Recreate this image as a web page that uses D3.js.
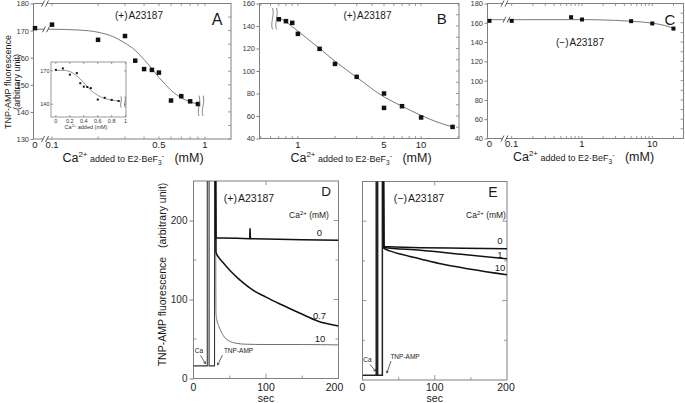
<!DOCTYPE html>
<html><head><meta charset="utf-8">
<script src="https://cdn.jsdelivr.net/npm/d3@7"></script>
<style>body{margin:0;background:#fff}</style>
</head><body><svg id="c" width="685" height="403"></svg>
<script>
// ---------- DATA ----------
// Panel A (+)A23187
const aCa = [0,0.1,0.2,0.3,0.35,0.4,0.45,0.5,0.6,0.7,0.8,0.9];
const aF  = [170.9,172.2,166.6,168,158.9,155.8,155.5,154.5,144.2,145.8,143.9,142.9];
const aFitCa = [0,0.1,0.15,0.2,0.25,0.3,0.35,0.4,0.45,0.5,0.55,0.6,0.7,0.8,0.9];
const aFitF  = [170.5,170.5,170.2,169.4,167.8,165.4,162.7,159.3,156,152.7,150.2,148,145.2,143.7,142.9];
const aYTicks = [130,140,150,160,170,180];
const aXTicks = [0,0.1,0.5,1];
const aInsetXTicks = [0,0.2,0.4,0.6,0.8,1];
const aInsetYTicks = [140,170];
// Panel B (+)A23187
const bCa = [0.7,0.8,0.9,1,1.5,2,3,5,5,7,10,18];
const bF  = [146,144.3,142.8,133,119.7,106.3,94.8,67.2,80,68.7,58.7,50.3];
const bFitCa = [0.7,0.8,0.9,1,1.5,2,3,5,7,10,14,18];
const bFitF  = [147.5,143.7,139.5,135.5,120,108.7,94.4,77,68.7,60.5,54,50.3];
const bYTicks = [40,60,80,100,120,140,160];
const bXTicks = [1,5,10];
// Panel C (-)A23187
const cCa = [0,0.1,0.7,1,5,10,20];
const cF  = [162,162,165.8,163.4,161.7,159.3,154];
const cFitCa = [0,0.1,1,3,5,10,15,20];
const cFitF  = [163.2,163.2,163.3,162.5,161.6,159.6,157.2,154.3];
const cYTicks = [40,60,80,100,120,140,160,180];
const cXTicks = [0,0.1,1,10];
// Panel D (+)A23187 time courses (sec, fluorescence)
const dBaseT = [0,19,19,21.5,21.5,29,29,30.5];
const dBaseF = [16,16,262,262,16,16,262,262];
const dT0 = [30.5,31,40,60,77,77.5,78,78.5,79,100,150,200];
const dF0 = [262,178,178,177.5,177,177,190,177,177,176.5,175.5,175];
const dT07 = [30.5,31,35,40,50,60,70,80,100,120,147,172,200];
const dF07 = [262,160,153,147.5,137,128,120,113,103,94,82.6,72.5,66.5];
const dT10 = [30.5,31,32,35,40,45,50,60,70,100,150,200];
const dF10 = [262,83,75,66,56,50,47,44.5,43.5,43,43,42.5];
const dLabels = ["0","0.7","10"];
// Panel E (-)A23187
const eBaseT = [0,19,19,21,21,27.5,27.5,29];
const eBaseF = [6,6,262,262,6,6,262,262];
const eT0 = [29,29.5,80,140,200];
const eF0 = [262,168,166.7,166,165.3];
const eT1 = [29,29.5,80,140,200];
const eF1 = [262,167,163.5,158,152.6];
const eT10 = [29,29.5,40,55,80,110,150,200];
const eF10 = [262,166,162,158,152.5,146,139.5,132.5];
const eLabels = ["0","1","10"];
const tTicks = [0,100,200];
const fTicks = [0,100,200];

// ---------- DRAWING ----------
const FONT = "Arial, 'Liberation Sans', Helvetica, sans-serif";
const FRAME = "#808080", INK = "#1a1a1a", FIT = "#6a6a6a";
const svg = d3.select("#c").attr("font-family", FONT);

function frame(x0,y0,x1,y1){
  svg.append("rect").attr("x",x0).attr("y",y0).attr("width",x1-x0).attr("height",y1-y0)
    .attr("fill","none").attr("stroke",FRAME).attr("stroke-width",1);
}
function txt(x,y,s,fs,anchor,fill){
  return svg.append("text").attr("x",x).attr("y",y).attr("font-size",fs)
    .attr("text-anchor",anchor||"middle").attr("fill",fill||INK).text(s);
}
function yLeft(y, vals, x0, fs){
  const g = svg.append("g").attr("transform",`translate(${x0},0)`)
    .call(d3.axisLeft(y).tickValues(vals).tickSize(3).tickPadding(1.5));
  g.select(".domain").remove();
  g.selectAll("line").attr("stroke",FRAME);
  g.selectAll("text").attr("font-size",fs).attr("fill","#3a3a3a").attr("font-family",FONT);
}
function hTicks(xs, yPos, len){
  xs.forEach(x=>svg.append("line").attr("x1",x).attr("x2",x).attr("y1",yPos).attr("y2",yPos+len)
    .attr("stroke",FRAME).attr("stroke-width",0.8));
}
function vTicks(ys, xPos, len){
  ys.forEach(y=>svg.append("line").attr("x1",xPos).attr("x2",xPos+len).attr("y1",y).attr("y2",y)
    .attr("stroke",FRAME).attr("stroke-width",0.8));
}
function brk(x,y){
  svg.append("path").attr("d",`M${x-4.5},${y+3} L${x-1.5},${y-3} L${x+2.5},${y-3} L${x-0.5},${y+3} Z`)
    .attr("fill","#fff").attr("stroke","none");
  svg.append("path").attr("d",`M${x-4.5},${y+3} L${x-1.5},${y-3} M${x-0.5},${y+3} L${x+2.5},${y-3}`)
    .attr("stroke","#333").attr("stroke-width",0.8).attr("fill","none");
}
function wavy(x,y0,y1,w){
  const h=y1-y0;
  [0,4].forEach(dx=>svg.append("path")
    .attr("d",`M${x+dx},${y0} C${x+dx+w},${y0+h*0.3} ${x+dx-w},${y0+h*0.7} ${x+dx},${y1}`)
    .attr("fill","none").attr("stroke","#555").attr("stroke-width",0.7));
}
function caLabel(cx, y){
  const t = svg.append("text").attr("x",cx).attr("y",y).attr("text-anchor","middle").attr("fill",INK);
  t.append("tspan").attr("font-size",12.5).text("Ca");
  t.append("tspan").attr("font-size",8).attr("dy",-5).text("2+");
  t.append("tspan").attr("font-size",9).attr("dy",5).text(" added to E2\u00b7BeF");
  t.append("tspan").attr("font-size",6.5).attr("dy",2.5).text("3");
  t.append("tspan").attr("font-size",7).attr("dy",-7).text("-");
  t.append("tspan").attr("font-size",12.5).attr("dy",4.5).text("\u00a0\u00a0\u00a0(mM)");
}
function title(x,y,sign,fs){
  const t = svg.append("text").attr("x",x).attr("y",y).attr("text-anchor","middle").attr("fill",INK).attr("font-size",fs);
  t.append("tspan").text("("+sign+")");
  t.append("tspan").attr("dx",1).text("A23187");
}
function squares(xf, yf, xs, ys, s){
  svg.append("g").selectAll("rect").data(xs.map((v,i)=>[v,ys[i]])).join("rect")
    .attr("x",d=>xf(d[0])-s/2).attr("y",d=>yf(d[1])-s/2).attr("width",s).attr("height",s).attr("fill","#111");
}
function curve(xf,yf,xs,ys,stroke,sw,clip){
  const p = svg.append("path").datum(xs.map((v,i)=>[v,ys[i]]))
    .attr("d",d3.line().x(d=>xf(d[0])).y(d=>yf(d[1])).curve(d3.curveMonotoneX))
    .attr("fill","none").attr("stroke",stroke).attr("stroke-width",sw);
  if(clip) p.attr("clip-path",`url(#${clip})`);
  return p;
}
function poly(xf,yf,xs,ys,stroke,sw,clip){
  const p = svg.append("path").datum(xs.map((v,i)=>[v,ys[i]]))
    .attr("d",d3.line().x(d=>xf(d[0])).y(d=>yf(d[1])))
    .attr("fill","none").attr("stroke",stroke).attr("stroke-width",sw);
  if(clip) p.attr("clip-path",`url(#${clip})`);
  return p;
}
const minorLog = (lo,hi)=>{const out=[];for(let e=-2;e<3;e++)for(let m=1;m<10;m++){const v=m*Math.pow(10,e);if(v>=lo&&v<=hi)out.push(v);}return out;};

// ===== Panel A =====
{
  const L=33.5,R=231,T=3.5,B=139;
  const xl = d3.scaleLog().domain([0.1,1.48]).range([52,231]);
  const zeroX = 35;
  const xA = v => v===0 ? zeroX : xl(v);
  const y = d3.scaleLinear().domain([130,180]).range([B,T]);
  frame(L,T,R,B);
  yLeft(y, aYTicks, L, 7.5);
  vTicks(d3.range(130,181,5).map(y), R, -3);
  const mt = minorLog(0.1,1.48);
  hTicks(mt.map(xl), T, 2.5); hTicks(mt.map(xl), B, -2.5);
  aXTicks.forEach(v=>txt(xA(v), B+8.5, String(v), 9.5));
  const fitLog = aFitCa.map((v,i)=>[v,aFitF[i]]).filter(d=>d[0]>=0.1);
  curve(xA,y,fitLog.map(d=>d[0]),fitLog.map(d=>d[1]),FIT,0.9);
  poly(xA,y,[0,0.1],[aFitF[0],aFitF[1]],FIT,0.9);
  squares(xA,y,aCa,aF,4.5);
  const bx = zeroX + (xl(0.1)-zeroX)*0.65;
  brk(bx,T); brk(bx,B); brk(bx+1,y(aFitF[0]));
  wavy(199,y(146),y(138.5),2.5);
  title(139,18.5,"+",10);
  txt(217,25,"A",16);
  caLabel(133,162);
  svg.append("text").attr("transform","translate(11,82) rotate(-90)").attr("text-anchor","middle")
    .attr("font-size",9).attr("fill",INK).text("TNP-AMP fluorescence");
  svg.append("text").attr("transform","translate(19.5,82) rotate(-90)").attr("text-anchor","middle")
    .attr("font-size",9).attr("fill",INK).text("(arbitrary unit)");
  // inset
  const iL=51,iR=126,iT=62,iB=117;
  const xi = d3.scaleLinear().domain([-0.07,1.005]).range([iL,iR]);
  const yi = d3.scaleLinear().domain([128.5,178]).range([iB,iT]);
  svg.append("rect").attr("x",iL).attr("y",iT).attr("width",iR-iL).attr("height",iB-iT).attr("fill","#fff").attr("stroke",FRAME).attr("stroke-width",0.8);
  hTicks(aInsetXTicks.map(xi), iB, -2); hTicks(aInsetXTicks.map(xi), iT, 2);
  vTicks(aInsetYTicks.map(yi), iL, 2); vTicks(aInsetYTicks.map(yi), iR, -2);
  aInsetXTicks.forEach(v=>txt(xi(v), iB+6, String(v), 5.5, "middle", "#333"));
  aInsetYTicks.forEach(v=>txt(iL-1.5, yi(v)+2, String(v), 5.5, "end", "#333"));
  curve(xi,yi,aFitCa,aFitF,FIT,0.7);
  squares(xi,yi,aCa,aF,2);
  wavy(121,yi(147),yi(137),1.5);
  const it = svg.append("text").attr("x",86).attr("y",iB+12).attr("text-anchor","middle").attr("font-size",5.5).attr("fill","#333");
  it.append("tspan").text("Ca");
  it.append("tspan").attr("font-size",4).attr("dy",-2).text("2+");
  it.append("tspan").attr("dy",2).text(" added  (mM)");
}

// ===== Panel B =====
{
  const L=259.5,R=459,T=3.5,B=138.5;
  const x = d3.scaleLog().domain([0.488,20.3]).range([L,R]);
  const y = d3.scaleLinear().domain([40,160]).range([B,T]);
  frame(L,T,R,B);
  yLeft(y, bYTicks, L, 7.5);
  vTicks(d3.range(40,161,10).map(y), R, -3);
  const mt = minorLog(0.5,20);
  hTicks(mt.map(x), T, 2.5); hTicks(mt.map(x), B, -2.5);
  bXTicks.forEach(v=>txt(x(v), B+9.5, String(v), 9.5));
  curve(x,y,bFitCa,bFitF,FIT,0.9);
  squares(x,y,bCa,bF,4.5);
  wavy(272.5,y(156),y(137),2.5);
  title(367.5,18.5,"+",10);
  txt(441.7,23.5,"B",15);
  caLabel(361,162);
}

// ===== Panel C =====
{
  const L=487.5,R=683.5,T=3.5,B=138.5;
  const xl = d3.scaleLog().domain([0.1,27.8]).range([511.7,R]);
  const zeroX = 489.5;
  const xC = v => v===0 ? zeroX : xl(v);
  const y = d3.scaleLinear().domain([40,180]).range([B,T]);
  frame(L,T,R,B);
  yLeft(y, cYTicks, L, 7.5);
  vTicks(d3.range(40,181,10).map(y), R, -3);
  const mt = minorLog(0.1,27.8);
  hTicks(mt.map(xl), T, 2.5); hTicks(mt.map(xl), B, -2.5);
  cXTicks.forEach(v=>txt(xC(v), B+8.5, String(v), 9.5));
  const fitLog = cFitCa.map((v,i)=>[v,cFitF[i]]).filter(d=>d[0]>=0.1);
  curve(xC,y,fitLog.map(d=>d[0]),fitLog.map(d=>d[1]),FIT,0.9);
  poly(xC,y,[0,0.1],[cFitF[0],cFitF[1]],FIT,0.9);
  squares(xC,y,cCa,cF,4);
  const bx = zeroX + (xl(0.1)-zeroX)*0.72;
  brk(bx,T); brk(bx,B); brk(bx+2,y(cFitF[0]));
  title(580,46,"\u2212",10);
  txt(670,25,"C",15);
  caLabel(583.5,161);
}

const defs = svg.append("defs");
defs.append("clipPath").attr("id","clipD").append("rect").attr("x",193.5).attr("y",181).attr("width",145).attr("height",197.5);
defs.append("clipPath").attr("id","clipE").append("rect").attr("x",362.5).attr("y",181.5).attr("width",144.5).attr("height",198.5);

// ===== Panel D =====
{
  const L=193.5,R=338.5,T=181,B=378.5;
  const x = d3.scaleLinear().domain([0,200]).range([L,R]);
  const y = d3.scaleLinear().domain([0,250]).range([B,T]);
  frame(L,T,R,B);
  const g = svg.append("g").attr("transform",`translate(${L},0)`)
    .call(d3.axisLeft(y).tickValues(fTicks).tickSize(4).tickPadding(2));
  g.select(".domain").remove(); g.selectAll("line").attr("stroke",FRAME);
  g.selectAll("text").attr("font-size",10).attr("fill","#2a2a2a").attr("font-family",FONT);
  vTicks([50,150].map(y), L, 3);
  vTicks([100,200].map(y), R, -5); vTicks([50,150].map(y), R, -3);
  hTicks([100].map(x), T, 4); hTicks([100].map(x), B, -5); hTicks([50,150].map(x), B, -3);
  tTicks.forEach(v=>txt(x(v)-(v===200?4:0), 390.5, String(v), 10.5));
  txt(x(100), 402, "sec", 10.5);
  poly(x,y,dBaseT,dBaseF,"#333",1.1,"clipD");
  curve(x,y,dT10,dF10,"#707070",1,"clipD");
  curve(x,y,dT07,dF07,"#111",1.5,"clipD");
  poly(x,y,dT0,dF0,"#111",1.5,"clipD");
  title(249,202,"+",10.5);
  txt(326,196,"D",13.5);
  const ct = svg.append("text").attr("x",309).attr("y",218).attr("text-anchor","middle").attr("font-size",8.5).attr("fill",INK);
  ct.append("tspan").text("Ca"); ct.append("tspan").attr("font-size",6).attr("dy",-3.5).text("2+");
  ct.append("tspan").attr("dy",3.5).text(" (mM)");
  const ends = [dF0[dF0.length-1], dF07[dF07.length-1], dF10[dF10.length-1]];
  txt(319.5,y(ends[0])-4.5,dLabels[0],9.5);
  txt(319.5,y(ends[1])-7,dLabels[1],9.5);
  txt(320,y(ends[2])-3,dLabels[2],9.5);
  txt(199,352.5,"Ca",6.5);
  svg.append("path").attr("d","M200.5,355.5 L205.5,363.5 M203.3,362.8 L205.5,363.5 L205.3,361.2").attr("stroke","#222").attr("stroke-width",0.7).attr("fill","none");
  txt(238.5,353,"TNP-AMP",6.5);
  svg.append("path").attr("d","M222.5,355 L217.5,365 M217.6,362.6 L217.5,365 L219.5,363.6").attr("stroke","#222").attr("stroke-width",0.7).attr("fill","none");
  svg.append("text").attr("transform","translate(165.5,274.5) rotate(-90)").attr("text-anchor","middle")
    .attr("font-size",10.5).attr("fill",INK).attr("xml:space","preserve").style("white-space","pre")
    .text("TNP-AMP fluorescence   (arbitrary unit)");
}

// ===== Panel E =====
{
  const L=362.5,R=507,T=181.5,B=380;
  const x = d3.scaleLinear().domain([0,200]).range([L,R]);
  const y = d3.scaleLinear().domain([0,250]).range([B,T]);
  frame(L,T,R,B);
  vTicks([100,200].map(y), L, 4); vTicks([50,150].map(y), L, 2.5);
  vTicks([100,200].map(y), R, -5); vTicks([50,150].map(y), R, -3);
  hTicks([100].map(x), T, 4); hTicks([100].map(x), B, -5); hTicks([50,150].map(x), B, -3);
  tTicks.forEach(v=>txt(x(v)-(v===200?1:0), 390.5, String(v), 10.5));
  txt(x(100), 402, "sec", 10.5);
  poly(x,y,eBaseT,eBaseF,"#222",1.5,"clipE");
  curve(x,y,eT10,eF10,"#111",1.5,"clipE");
  curve(x,y,eT1,eF1,"#111",1.5,"clipE");
  curve(x,y,eT0,eF0,"#111",1.5,"clipE");
  title(419,202,"\u2212",10.5);
  txt(493,196.5,"E",14);
  const ct = svg.append("text").attr("x",486).attr("y",218).attr("text-anchor","middle").attr("font-size",8.5).attr("fill",INK);
  ct.append("tspan").text("Ca"); ct.append("tspan").attr("font-size",6).attr("dy",-3.5).text("2+");
  ct.append("tspan").attr("dy",3.5).text(" (mM)");
  txt(500,y(eF0[eF0.length-1])-4.5,eLabels[0],9.5);
  txt(500,y(eF1[eF1.length-1])-1,eLabels[1],9.5);
  txt(500,y(eF10[eF10.length-1])-4,eLabels[2],9.5);
  txt(367.5,362,"Ca",6.5);
  svg.append("path").attr("d","M370,364.5 L375.5,371 M373.3,370.6 L375.5,371 L375.2,368.8").attr("stroke","#222").attr("stroke-width",0.7).attr("fill","none");
  txt(405,359,"TNP-AMP",6.5);
  svg.append("path").attr("d","M391,361 L386.8,373 M386.6,370.6 L386.8,373 L388.6,371.4").attr("stroke","#222").attr("stroke-width",0.7).attr("fill","none");
}
</script></body></html>
